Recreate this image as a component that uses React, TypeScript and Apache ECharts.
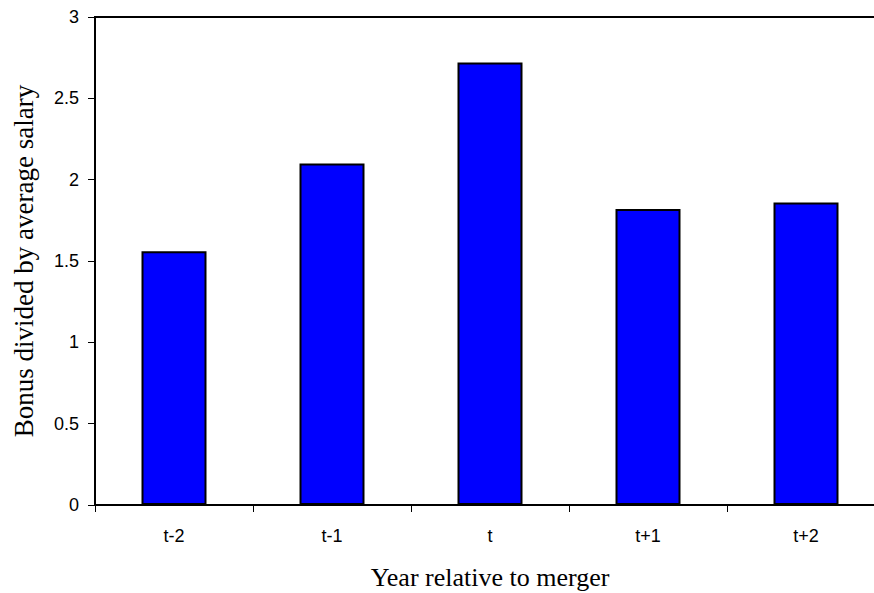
import React, { useEffect, useRef } from "react";
import * as echarts from "echarts";

const categories: string[] = ["t-2", "t-1", "t", "t+1", "t+2"];
const bonusRatio: number[] = [1.56, 2.1, 2.72, 1.82, 1.86];
const yTicks: number[] = [0, 0.5, 1, 1.5, 2, 2.5, 3];

const xName = "Year relative to merger";
const yName = "Bonus divided by average salary";

export default function App() {
  const ref = useRef<HTMLDivElement | null>(null);

  useEffect(() => {
    if (!ref.current) return;
    const chart = echarts.init(ref.current, null, { renderer: "svg" });
    chart.setOption({
      animation: false,
      backgroundColor: "#ffffff",
      grid: {
        left: 95,
        top: 17,
        width: 790,
        height: 488,
        containLabel: false,
        outerBoundsMode: "none",
        show: true,
        borderColor: "#000000",
        borderWidth: 2,
        backgroundColor: "transparent",
      },
      xAxis: {
        type: "category",
        data: categories,
        boundaryGap: true,
        name: xName,
        nameLocation: "middle",
        nameGap: 59,
        nameTextStyle: {
          fontFamily: "Liberation Serif",
          fontSize: 26,
          color: "#000000",
        },
        axisLine: { show: true, lineStyle: { color: "#000000", width: 2 } },
        axisTick: { show: true, length: 7, lineStyle: { color: "#000000", width: 1 } },
        axisLabel: {
          margin: 22,
          fontFamily: "Liberation Sans",
          fontSize: 18,
          color: "#000000",
        },
        splitLine: { show: false },
      },
      yAxis: {
        type: "value",
        min: yTicks[0],
        max: yTicks[yTicks.length - 1],
        interval: 0.5,
        name: yName,
        nameLocation: "middle",
        nameGap: 58,
        nameTextStyle: {
          fontFamily: "Liberation Serif",
          fontSize: 27,
          color: "#000000",
        },
        axisLine: { show: true, lineStyle: { color: "#000000", width: 2 } },
        axisTick: { show: true, length: 7, lineStyle: { color: "#000000", width: 1 } },
        axisLabel: {
          margin: 16,
          fontFamily: "Liberation Sans",
          fontSize: 18,
          color: "#000000",
        },
        splitLine: { show: false },
      },
      series: [
        {
          type: "bar",
          data: bonusRatio,
          barWidth: 65,
          itemStyle: {
            color: "#0000FF",
            borderColor: "#000000",
            borderWidth: 2,
          },
        },
      ],
    });
    return () => chart.dispose();
  }, []);

  return (
    <div
      ref={ref}
      style={{ position: "absolute", left: 0, top: 0, width: 874, height: 593 }}
    />
  );
}
